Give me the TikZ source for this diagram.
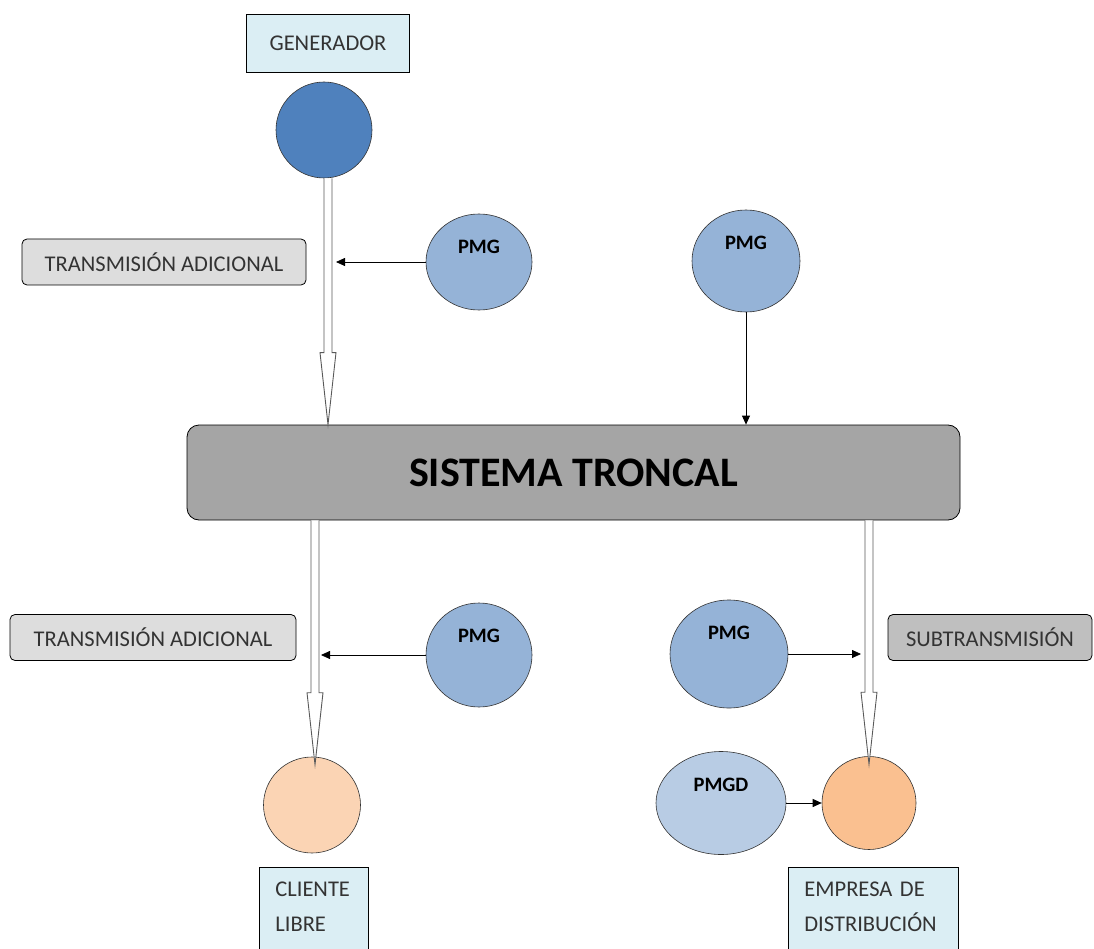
\documentclass[tikz,border=0pt]{standalone}
\usepackage{fontspec}
\setmainfont{Carlito}
\usetikzlibrary{shapes.geometric,arrows.meta,calc}
\definecolor{boxblue}{HTML}{DBEEF4}
\definecolor{taggray}{HTML}{DDDDDD}
\definecolor{subgray}{HTML}{BFBFBF}
\definecolor{trunkgray}{HTML}{A5A5A5}
\definecolor{genblue}{HTML}{4F81BD}
\definecolor{pmgblue}{HTML}{95B3D7}
\definecolor{pmgdblue}{HTML}{B8CCE4}
\definecolor{clientpeach}{HTML}{FBD4B4}
\definecolor{distorange}{HTML}{FAC090}
\begin{document}
\begin{tikzpicture}[x=1pt,y=-1pt,
  txt/.style={font=\fontsize{22.5}{35}\selectfont, text=black!80},
  box/.style={txt, draw=black, line width=0.8pt, fill=boxblue},
  endbox/.style={box, anchor=north west, align=left, inner xsep=16pt, inner ysep=14pt},
  tag/.style={txt, draw=black, line width=0.8pt, rounded corners=5pt, minimum height=46pt},
  disc/.style={ellipse, draw=black!80, line width=0.6pt, inner sep=0pt},
  pmg/.style={disc, fill=pmgblue,
    label={[font=\bfseries\fontsize{20.5}{22}\selectfont, anchor=north, yshift=-23pt]north:#1}},
  feed/.style={-{Triangle[length=9pt,width=8pt]}, line width=0.8pt},
  hollow/.style={draw=black!65, fill=white, line width=0.9pt, line join=miter,
    to path={let \p1=(\tikztostart), \p2=(\tikztotarget) in
      (\x1-4pt,\y1) -- (\x1-4pt,\y2+72pt) -- (\x1-8pt,\y2+72pt) -- (\x1,\y2)
      -- (\x1+8pt,\y2+72pt) -- (\x1+4pt,\y2+72pt) -- (\x1+4pt,\y1)}}
]
\useasboundingbox[fill=white] (0,0) rectangle (1094,949);

% generation side
\node[box, minimum width=163, minimum height=58] (generador) at (328,43) {GENERADOR};
\node[disc, fill=genblue, minimum width=96, minimum height=96] (gen) at (324,130) {};
\node[tag, fill=taggray, minimum width=284] (ta1) at (164,262) {TRANSMISIÓN ADICIONAL};
\node[pmg=PMG, minimum width=106, minimum height=96] (pmg1) at (479,262) {};
\node[pmg=PMG, minimum width=108, minimum height=102] (pmg2) at (746,261) {};

% trunk system
\node[draw=black, line width=0.8pt, fill=trunkgray, rounded corners=12pt,
      minimum width=773, minimum height=95,
      font=\bfseries\fontsize{42}{46}\selectfont] (troncal) at (573.5,472.5) {SISTEMA TRONCAL};

% consumption side
\node[tag, fill=taggray, minimum width=286] (ta2) at (153,637.5) {TRANSMISIÓN ADICIONAL};
\node[pmg=PMG, minimum width=106, minimum height=104] (pmg3) at (479,655) {};
\node[pmg=PMG, minimum width=118, minimum height=108] (pmg4) at (729,654) {};
\node[tag, fill=subgray, minimum width=204] (sub) at (990,637.5) {SUBTRANSMISIÓN};
\node[pmg=PMGD, fill=pmgdblue, minimum width=130, minimum height=103] (pmgd) at (721,803) {};
\node[disc, fill=clientpeach, minimum width=97, minimum height=96] (cliente) at (312,805) {};
\node[disc, fill=distorange, minimum width=94, minimum height=93] (empresa) at (869,803) {};
\node[endbox, text width=77] (cl) at (259,867) {CLIENTE\\LIBRE\\~};
\node[endbox, text width=138] (ed) at (788,867) {EMPRESA DE\\DISTRIBUCIÓN\\~};

% junction points on the transmission shafts
\coordinate (j1) at ($(gen.south |- pmg1.west)+(12,0)$);
\coordinate (j3) at ($(cliente.north |- pmg3.west)+(9,0)$);
\coordinate (j4) at ($(empresa.north |- pmg4.east)+(-8,0)$);

% transmission shafts
\draw[hollow] ($(gen.south)+(4,0)$) to ($(gen.south |- troncal.north)+(4,0)$);
\draw[hollow] ($(troncal.south -| cliente.north)+(3,0)$) to ($(cliente.north)+(3,8)$);
\draw[hollow] (troncal.south -| empresa.north) to ($(empresa.north)+(0,8)$);

% injections
\draw[feed] (pmg1.west) -- (j1);
\draw[feed] (pmg2.south) -- (pmg2.south |- troncal.north);
\draw[feed] (pmg3.west) -- (j3);
\draw[feed] (pmg4.east) -- (j4);
\draw[feed] (pmgd.east) -- (empresa.west);
\end{tikzpicture}
\end{document}
